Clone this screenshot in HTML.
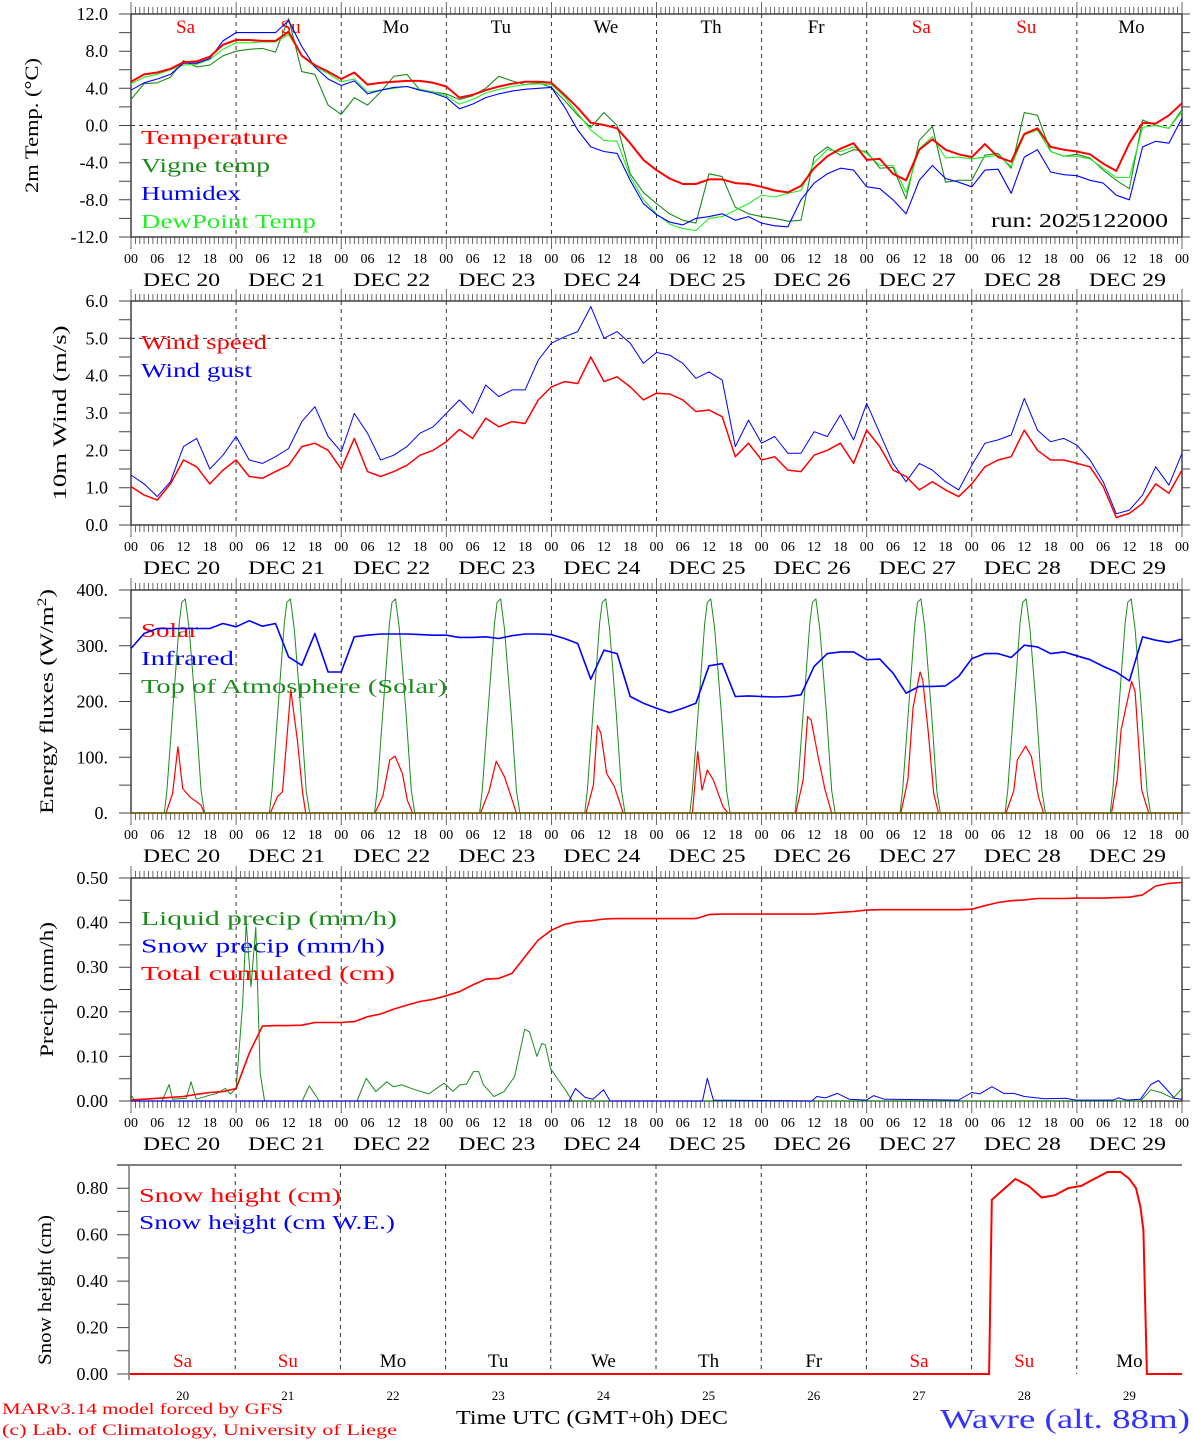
<!DOCTYPE html>
<html><head><meta charset="utf-8"><title>MAR forecast Wavre</title>
<style>
html,body{margin:0;padding:0;background:#fff;}
svg{display:block;font-family:"Liberation Serif",serif;}
</style></head>
<body>
<svg id="chart" xmlns="http://www.w3.org/2000/svg" width="1194" height="1440" viewBox="0 0 1194 1440"></svg>
<script>
// ---------- DATA ----------
const dayNames = ["Sa","Su","Mo","Tu","We","Th","Fr","Sa","Su","Mo"];
const dayColors = ["red","red","black","black","black","black","black","red","red","black"];
const dayNums = ["20","21","22","23","24","25","26","27","28","29"];
const hourLabels = ["00","06","12","18"];

// 3-hourly series (hours 0..240)
const tempRed = [4.7,5.5,5.7,6.1,6.8,6.9,7.4,8.7,9.2,9.2,9.1,9.1,10.1,7.5,6.5,5.8,5.0,
 5.7,4.4,4.6,4.7,4.8,4.8,4.6,4.2,3.0,3.3,3.8,4.2,4.5,4.7,4.7,4.6,
 3.3,1.9,0.3,0.05,-0.3,-1.9,-3.7,-4.8,-5.7,-6.3,-6.3,-5.8,-5.8,-6.2,-6.3,-6.6,-7.0,-7.2,-6.5,-4.6,-3.3,-2.5,-1.9,-3.7,-3.6,-5.2,-5.9,-2.6,-1.5,-2.6,-3.1,-3.4,-2.0,-3.4,-3.9,-0.9,-0.3,-2.3,-2.6,-2.8,-3.1,-4.1,-4.9,-1.9,0.3,0.2,1.1,2.4];
const tempVigne = [2.8,4.5,4.6,5.2,7.0,6.3,6.5,7.5,8.0,8.2,8.3,7.9,11.5,5.8,5.5,2.2,1.2,
 3.0,2.2,3.6,5.3,5.5,3.8,3.6,3.4,2.8,3.2,4.0,5.3,4.8,4.4,4.6,4.1,
 2.7,1.1,-0.2,1.4,0,-5.2,-7.2,-8.4,-9.5,-10.2,-10.5,-5.2,-5.5,-8.8,-9.5,-9.8,-10.0,-10.3,-10.2,-3.4,-2.3,-3.2,-2.6,-2.8,-4.6,-4.5,-7.9,-1.6,-0.1,-6.1,-5.9,-5.9,-3.2,-3.0,-4.6,1.4,1.1,-2.8,-3.3,-3.1,-3.5,-4.8,-5.9,-6.8,0.6,0,-0.3,1.7];
const tempHumidex = [3.8,4.6,5.0,5.5,6.7,6.7,7.2,9.1,10.0,10.0,10.0,10.0,11.3,8.5,6.3,5.0,4.3,
 4.8,3.4,3.8,4.1,4.2,3.8,3.5,3.0,1.8,2.3,3.0,3.4,3.7,3.9,4.0,4.1,
 2.0,-0.5,-2.3,-2.8,-3.0,-5.9,-8.4,-9.6,-10.4,-10.7,-10.0,-9.8,-9.5,-10.2,-9.8,-10.5,-10.8,-10.9,-8.0,-6.2,-5.2,-4.6,-4.8,-6.6,-6.8,-8.0,-9.5,-5.9,-4.3,-5.7,-6.1,-6.6,-4.8,-4.7,-7.3,-3.4,-2.6,-5.0,-5.3,-5.4,-5.9,-6.2,-7.5,-8.0,-2.3,-1.7,-1.9,0.8];
const tempDew = [4.5,5.2,5.5,6.0,6.5,6.6,7.1,8.2,8.9,8.9,9.0,9.0,9.8,7.5,6.3,5.6,4.7,
 5.0,3.6,3.8,4.0,4.2,3.9,3.6,3.2,2.3,2.8,3.5,3.9,4.2,4.4,4.5,4.4,
 3.1,1.3,-0.5,-1.6,-1.7,-5.5,-8.0,-9.5,-10.6,-11.1,-11.3,-10.0,-9.8,-9.1,-8.4,-7.5,-7.7,-7.3,-7.0,-4.0,-2.6,-2.8,-2.3,-3.0,-4.3,-4.3,-7.2,-2.5,-1.2,-3.5,-3.4,-3.6,-3.4,-3.2,-4.4,-1.0,-0.5,-2.8,-3.3,-3.3,-3.6,-4.6,-5.6,-5.6,-0.2,0.0,-0.3,1.5];

const windSpeed = [1.03,0.8,0.67,1.1,1.74,1.56,1.1,1.47,1.74,1.3,1.25,1.43,1.6,2.1,2.19,2.0,1.5,2.32,1.43,1.3,
 1.43,1.6,1.87,2.0,2.23,2.56,2.32,2.86,2.63,2.77,2.72,3.35,3.7,3.84,3.79,4.5,3.84,3.97,3.7,3.35,
 3.53,3.51,3.35,3.04,3.08,2.9,1.83,2.19,1.74,1.83,1.47,1.43,1.87,2.0,2.19,1.65,2.54,2.1,1.47,1.3,
 0.94,1.16,0.94,0.76,1.1,1.56,1.74,1.83,2.54,2.0,1.74,1.74,1.65,1.56,1.03,0.2,0.31,0.58,1.1,0.85,1.47];
const windGust = [1.34,1.1,0.76,1.16,2.1,2.32,1.5,1.87,2.37,1.74,1.65,1.83,2.05,2.77,3.17,2.37,1.96,2.99,2.46,1.74,
 1.87,2.1,2.46,2.63,2.99,3.35,2.99,3.75,3.44,3.62,3.62,4.42,4.87,5.04,5.18,5.85,5.0,5.18,4.87,4.33,
 4.62,4.55,4.33,3.93,4.1,3.88,2.1,2.81,2.19,2.37,1.92,1.92,2.5,2.37,2.95,2.28,3.26,2.46,1.65,1.16,
 1.65,1.47,1.16,0.94,1.6,2.19,2.28,2.41,3.39,2.54,2.23,2.32,2.14,1.74,1.16,0.3,0.4,0.8,1.56,1.07,1.92];

const infrared = [295,322,331,331,331,331,331,340,334,345,335,340,280,265,322,253,253,316,319,321,
 321,321,320,319,319,315,315,316,313,318,321,321,320,313,304,240,292,286,209,197,
 188,180,188,197,264,268,209,210,209,208,209,212,263,286,289,289,275,276,251,215,
 227,227,228,245,277,286,286,279,301,298,286,289,282,275,263,253,237,316,310,306,312];

// Top of atmosphere solar, one diurnal profile (hours of day / W m-2)
const toaProfileHours = [7.6,8.2,9.5,11.0,11.6,12.4,13.3,14.8,16.0,16.8];
const toaProfileValues = [0,40,180,340,378,384,330,180,40,0];

// Surface solar per day: hour-of-day and values
const solarHours = [
 [8,9.5,10.7,11.8,13.4,15,16,16.7],
 [7.8,9.5,10.6,12.5,14,15.2,15.9],
 [7.7,9.5,11.1,12.3,14,15.1,16.3],
 [7.8,9.8,11.4,13.3,14.8,16],
 [7.9,9.6,10.5,11.3,12.6,14.4,16.4],
 [8.2,9.4,10.4,11.6,13,15.2,16.3],
 [7.8,9.5,10.5,11.3,12.9,14.5,16],
 [7.8,9.4,10.6,12.2,12.8,14.1,15.3,16.4],
 [7.8,9.6,10.4,12.3,13.6,15.2,16.4],
 [7.9,9.2,10.1,12.5,13.3,14.8,16.4]];
const solarValues = [
 [0,35,119,44,29,20,14,0],
 [0,30,38,221,130,35,0],
 [0,30,95,102,70,23,0],
 [0,40,93,65,29,0],
 [0,50,157,143,71,47,0],
 [0,110,41,77,59,11,0],
 [0,60,173,167,101,41,0],
 [0,60,190,253,238,143,35,0],
 [0,40,95,120,101,29,0],
 [0,60,149,236,218,41,0]];

const precipCum = [0.002,0.004,0.006,0.008,0.01,0.015,0.019,0.021,0.028,0.107,
 0.168,0.169,0.169,0.17,0.176,0.176,0.176,0.178,0.189,0.195,0.206,0.215,0.223,0.228,0.236,0.245,0.26,0.273,0.275,0.286,
 0.324,0.361,0.383,0.396,0.402,0.404,0.408,0.409,0.409,0.409,0.409,0.409,0.409,0.409,0.418,0.419,0.419,0.419,0.419,0.419,
 0.419,0.419,0.419,0.421,0.423,0.425,0.428,0.429,0.429,0.429,0.429,0.429,0.429,0.429,0.43,0.438,0.445,0.449,0.451,0.454,
 0.454,0.454,0.455,0.455,0.455,0.456,0.457,0.462,0.482,0.488,0.49];

const liquidHours = [0,1,7.1,8.7,9.5,12.6,13.7,14.9,18,19.6,21.5,22.7,24,25.5,26.3,27.4,28.5,29.5,30.5,39.1,40.7,43,51.6,53.7,55.9,58.4,59.9,61.8,64.9,68,71.5,73.5,75.1,76.6,78.2,79.4,80.5,82.9,85.2,87.6,89.9,91,92.7,93.8,94.6,95.8,97.6,99.2,100.8,230.5,232.9,235.2,238,240];
const liquidValues = [0.013,0,0,0.037,0.004,0.006,0.043,0.004,0.013,0.017,0.028,0.016,0.028,0.219,0.4,0.256,0.39,0.062,0,0,0.034,0,0,0.051,0.021,0.043,0.032,0.036,0.025,0.016,0.04,0.022,0.036,0.038,0.066,0.066,0.036,0.01,0.021,0.055,0.161,0.155,0.1,0.129,0.126,0.073,0.047,0.025,0,0,0.025,0.019,0.006,0.028];
const snowPHours = [0,100,101.5,103.7,105.5,107.9,109.4,130.5,131.6,133,155.5,156.6,158.6,161.3,164,168,169.6,172,189,192,193.8,196.6,199.3,201.6,204,208.7,213.4,215.7,224.3,225.5,227.4,230.5,232.9,234.6,236.3,238.3,240];
const snowPValues = [0,0,0.028,0.008,0.004,0.025,0,0,0.051,0.002,0,0.01,0.007,0.017,0.004,0.002,0.012,0.004,0.002,0.019,0.016,0.032,0.017,0.017,0.01,0.005,0.006,0.002,0.002,0.007,0.002,0.004,0.037,0.046,0.028,0.006,0.004];

const snowHours = [0,196,196.6,199,202,205,208,211,214,217,220,223,226,228,229.5,230.5,231.2,232,240];
const snowValues = [0,0,0.75,0.79,0.84,0.81,0.76,0.77,0.8,0.81,0.84,0.87,0.87,0.84,0.8,0.72,0.62,0,0];

// ---------- DRAWING ----------
const NS = "http://www.w3.org/2000/svg";
const svg = document.getElementById("chart");
const X0 = 131, X1 = 1182, DAYW = (X1 - X0) / 10;
function xh(h){ return X0 + h * DAYW / 24; }

function mk(tag, attrs, name, parent){
  const e = document.createElementNS(NS, tag);
  for (const k in attrs) e.setAttribute(k, attrs[k]);
  
  
  (parent || svg).appendChild(e);
  return e;
}
function txt(s, x, y, size, color, name, anchor, len){
  const a = {x:x, y:y, "font-size":size, fill:color||"#000", "text-anchor":anchor||"start"};
  if (len) { a.textLength = len; a.lengthAdjust = "spacingAndGlyphs"; }
  const t = mk("text", a, name);
  t.textContent = s;
  return t;
}
function poly(hours, vals, yf, color, w, name){
  const pts = hours.map((h,i) => xh(h).toFixed(1) + "," + yf(vals[i]).toFixed(1)).join(" ");
  return mk("polyline", {points:pts, fill:"none", stroke:color, "stroke-width":w, "stroke-linejoin":"round"}, name);
}
const hours3 = [];
for (let h = 0; h <= 240; h += 3) hours3.push(h);

function panel(p){
  const yf = v => p.bottom - (v - p.vmin) / (p.vmax - p.vmin) * (p.bottom - p.top);
  const g = mk("g", {}, p.key + "-panel");
  mk("rect", {x:X0, y:p.top, width:X1-X0, height:p.bottom-p.top, fill:"none", stroke:"#222", "stroke-width":1.3}, p.key + "-frame", g);
  for (let d = 1; d < 10; d++){
    mk("line", {x1:xh(d*24), x2:xh(d*24), y1:p.top, y2:p.bottom, stroke:"#333", "stroke-width":1, "stroke-dasharray":"4,4"}, p.key + "-day-gridline", g);
  }
  if (p.dashY !== undefined){
    mk("line", {x1:X0, x2:X1, y1:yf(p.dashY), y2:yf(p.dashY), stroke:"#333", "stroke-width":1, "stroke-dasharray":"4,4"}, p.key + "-reference-line", g);
  }
  let d = "";
  for (let h = 0; h <= 240; h++){
    const x = xh(h).toFixed(1);
    const L = (h % 24 === 0) ? 12 : 7;
    d += "M" + x + " " + p.top + "v-" + L + "M" + x + " " + p.bottom + "v" + L;
  }
  mk("path", {d:d, stroke:"#444", "stroke-width":0.8, fill:"none"}, p.key + "-time-ticks", g);
  let yd = "";
  for (let v = p.vmin; v <= p.vmax + 1e-9; v += p.minor){
    const y = yf(v).toFixed(1);
    yd += "M" + (X0-12) + " " + y + "H" + X0 + "M" + X1 + " " + y + "h8";
  }
  mk("path", {d:yd, stroke:"#444", "stroke-width":1, fill:"none"}, p.key + "-y-ticks", g);
  for (let v = p.vmin; v <= p.vmax + 1e-9; v += p.major){
    txt(p.fmt(v), 108, yf(v) + 6, 18, "#000", p.key + "-y-tick-label", "end");
  }
  const t = mk("text", {x:0, y:0, "font-size":19, "text-anchor":"middle", textLength:p.titleLen, lengthAdjust:"spacingAndGlyphs",
    transform:"translate(" + p.titleX + "," + ((p.top+p.bottom)/2) + ") rotate(-90)"}, p.key + "-y-axis-title");
  t.innerHTML = p.title;
  if (p.weekdays){
    for (let i = 0; i < 10; i++){
      txt(dayNames[i], xh(i*24+12) + 2, p.top + 19, 19, dayColors[i], p.key + "-weekday-label", "middle");
    }
  }
  for (let i = 0; i < 10; i++){
    for (let j = 0; j < 4; j++){
      txt(hourLabels[j], xh(i*24 + j*6), p.bottom + 26, 14, "#000", p.key + "-hour-label", "middle");
    }
    txt("DEC " + dayNums[i], xh(i*24+12) - 2, p.bottom + 49, 19, "#000", p.key + "-date-label", "middle", 77);
  }
  txt("00", X1, p.bottom + 26, 14, "#000", p.key + "-hour-label", "middle");
  p.legend.forEach((L, i) => {
    txt(L[0], 141, p.legendY + i * p.legendStep, 20, L[1], p.key + "-legend-entry", "start", L[2]);
  });
  return yf;
}

// Panel 1: temperature
const yT = panel({key:"temp", top:14, bottom:237, vmin:-12, vmax:12, major:4, minor:2, fmt:v => v.toFixed(1),
  title:"2m Temp. (°C)", titleX:38, titleLen:135, dashY:0, weekdays:true,
  legend:[["Temperature","#ff0000",147],["Vigne temp","#1a8c1a",129],["Humidex","#0000ff",100],["DewPoint Temp","#22ee22",175]], legendY:144, legendStep:28});
poly(hours3, tempVigne, yT, "#1a8c1a", 1.1, "vigne-temp-line");
poly(hours3, tempDew, yT, "#22ee22", 1.1, "dewpoint-line");
poly(hours3, tempHumidex, yT, "#0000ff", 1.1, "humidex-line");
poly(hours3, tempRed, yT, "#ff0000", 2, "temperature-line");
txt("run: 2025122000", 1168, 227, 20, "#000", "run-label", "end", 177);

// Panel 2: wind
const yW = panel({key:"wind", top:301, bottom:525, vmin:0, vmax:6, major:1, minor:0.5, fmt:v => v.toFixed(1),
  title:"10m Wind (m/s)", titleX:66, titleLen:175, dashY:5,
  legend:[["Wind speed","#ff0000",126],["Wind gust","#0000ff",111]], legendY:349, legendStep:28});
poly(hours3, windGust, yW, "#0000ff", 1, "wind-gust-line");
poly(hours3, windSpeed, yW, "#ff0000", 1.5, "wind-speed-line");

// Panel 3: energy
const yE = panel({key:"energy", top:590, bottom:813, vmin:0, vmax:400, major:100, minor:50, fmt:v => v.toFixed(0) + ".",
  title:"Energy fluxes (W/m<tspan baseline-shift='super' font-size='13'>2</tspan>)", titleX:53, titleLen:225,
  legend:[["Solar","#ff0000",57],["Infrared","#0000ff",93],["Top of Atmosphere (Solar)","#1a8c1a",306]], legendY:637, legendStep:28});
for (let dd = 0; dd < 10; dd++){
  poly(toaProfileHours.map(h => h + dd*24), toaProfileValues, yE, "#1a8c1a", 1, "toa-solar-line");
}
for (let dd = 0; dd < 10; dd++){
  poly(solarHours[dd].map(h => h + dd*24), solarValues[dd], yE, "#ff0000", 1.2, "solar-line");
}
mk("line", {x1:X0, x2:X1, y1:yE(0), y2:yE(0), stroke:"#6b5a00", "stroke-width":1.5}, "energy-zero-line");
poly(hours3, infrared, yE, "#0000ff", 1.6, "infrared-line");

// Panel 4: precip
const yP = panel({key:"precip", top:878, bottom:1101, vmin:0, vmax:0.5, major:0.1, minor:0.05, fmt:v => v.toFixed(2),
  title:"Precip (mm/h)", titleX:53, titleLen:135,
  legend:[["Liquid precip (mm/h)","#1a8c1a",256],["Snow precip (mm/h)","#0000ff",244],["Total cumulated (cm)","#ff0000",254]], legendY:925, legendStep:27.5});
poly(liquidHours, liquidValues, yP, "#1a8c1a", 1, "liquid-precip-line");
poly(snowPHours, snowPValues, yP, "#0000ff", 1, "snow-precip-line");
poly(hours3, precipCum, yP, "#ff0000", 1.6, "total-cumulated-line");

// Panel 5: snow height
(function(){
  const top = 1165, bottom = 1374, vmax = 0.9;
  const ys = v => bottom - v / vmax * (bottom - top);
  const SX0 = 130;
  const xs = h => SX0 + h * (X1 - SX0) / 240;
  mk("line", {x1:117, x2:X1, y1:top, y2:top, stroke:"#333", "stroke-width":1.2}, "snow-top-border");
  mk("line", {x1:129, x2:129, y1:top, y2:bottom + 6, stroke:"#777", "stroke-width":1.5}, "snow-y-axis");
  for (let d = 1; d < 10; d++){
    mk("line", {x1:xs(d*24), x2:xs(d*24), y1:top, y2:bottom, stroke:"#333", "stroke-width":1, "stroke-dasharray":"4,4"}, "snow-day-gridline");
  }
  let yd = "";
  for (let v = 0; v <= 0.8001; v += 0.1){ yd += "M117 " + ys(v).toFixed(1) + "H129"; }
  mk("path", {d:yd, stroke:"#444", "stroke-width":1, fill:"none"}, "snow-y-ticks");
  for (let v = 0; v <= 0.8001; v += 0.2){
    txt(v.toFixed(2), 108, ys(v) + 6, 18, "#000", "snow-y-tick-label", "end");
  }
  mk("text", {x:0, y:0, "font-size":19, "text-anchor":"middle", textLength:150, lengthAdjust:"spacingAndGlyphs",
    transform:"translate(51,1290) rotate(-90)"}, "snow-y-axis-title").textContent = "Snow height (cm)";
  for (let i = 0; i < 10; i++){
    txt(dayNames[i], xs(i*24+12), 1367, 19, dayColors[i], "snow-weekday-label", "middle");
    txt(dayNums[i], xs(i*24+12), 1400, 13, "#000", "snow-day-number", "middle");
  }
  txt("Snow height (cm)", 139, 1202, 20, "#ff0000", "snow-legend-entry", "start", 202);
  txt("Snow height (cm W.E.)", 139, 1229, 20, "#0000ff", "snow-legend-entry", "start", 256);
  const pts = snowHours.map((h,i) => xs(h).toFixed(1) + "," + ys(snowValues[i]).toFixed(1)).join(" ");
  mk("polyline", {points:pts, fill:"none", stroke:"#ff0000", "stroke-width":2}, "snow-height-line");
})();

// Footer
txt("MARv3.14 model forced by GFS", 2, 1414, 16, "#ff0000", "model-credit", "start", 281);
txt("(c) Lab. of Climatology, University of Liege", 2, 1435, 16, "#ff0000", "lab-credit", "start", 395);
txt("Time UTC (GMT+0h) DEC", 456, 1424, 20, "#000", "x-axis-title", "start", 272);
txt("Wavre (alt. 88m)", 940, 1428, 27, "#3333ff", "station-title", "start", 250);
</script>
</body></html>
